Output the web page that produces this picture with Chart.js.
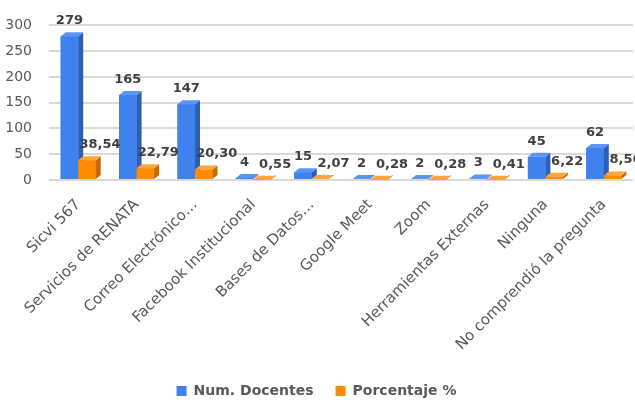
<!DOCTYPE html>
<html>
<head>
<meta charset="utf-8">
<title>Herramientas</title>
<script src="https://cdn.jsdelivr.net/npm/chart.js"></script>
<style>
  body { margin: 0; background: #fff; }
  #wrap { width: 635px; height: 400px; }
</style>
</head>
<body>
<div id="wrap"><canvas id="chart"></canvas></div>
<script>
var categories = ['Sicvi 567', 'Servicios de RENATA', 'Correo Electrónico…', 'Facebook Institucional',
  'Bases de Datos…', 'Google Meet', 'Zoom', 'Herramientas Externas', 'Ninguna', 'No comprendió la pregunta'];
var docentes = [279, 165, 147, 4, 15, 2, 2, 3, 45, 62];
var porcentaje = [38.54, 22.79, 20.30, 0.55, 2.07, 0.28, 0.28, 0.41, 6.22, 8.56];
var yTicks = [0, 50, 100, 150, 200, 250, 300];

var FONT = "'DejaVu Sans', sans-serif";
var faces = [
  { front: '#3f82ee', side: '#2b5fb8', top: '#5a95f2' },
  { front: '#ff8c00', side: '#c46a00', top: '#ffa53a' }
];

function fmt(v, ds) {
  if (ds === 0) return String(v);
  return v.toFixed(2).replace('.', ',');
}

// draws the bars again with a side and a top face, then the value labels
var bars3d = {
  id: 'bars3d',
  afterDatasetsDraw: function(chart) {
    var ctx = chart.ctx;
    var dx = 5, dy = 4;
    ctx.save();
    for (var d = 0; d < 2; d++) {
      var meta = chart.getDatasetMeta(d);
      var c = faces[d];
      meta.data.forEach(function(bar) {
        var w = bar.width;
        var l = bar.x - w / 2, r = bar.x + w / 2;
        var t = bar.y, b = bar.base;
        ctx.fillStyle = c.front;
        ctx.fillRect(l, t, w, b - t);
        ctx.fillStyle = c.side;
        ctx.beginPath();
        ctx.moveTo(r, t); ctx.lineTo(r + dx, t - dy); ctx.lineTo(r + dx, b - dy); ctx.lineTo(r, b);
        ctx.closePath(); ctx.fill();
        ctx.fillStyle = c.top;
        ctx.beginPath();
        ctx.moveTo(l, t); ctx.lineTo(l + dx, t - dy); ctx.lineTo(r + dx, t - dy); ctx.lineTo(r, t);
        ctx.closePath(); ctx.fill();
      });
    }
    ctx.fillStyle = '#404040';
    ctx.font = 'bold 13px ' + FONT;
    ctx.textAlign = 'center';
    ctx.textBaseline = 'bottom';
    for (var d2 = 0; d2 < 2; d2++) {
      var meta2 = chart.getDatasetMeta(d2);
      var vals = chart.data.datasets[d2].data;
      meta2.data.forEach(function(bar, i) {
        var x = d2 === 0 ? bar.x : bar.x + 13;
        ctx.fillText(fmt(vals[i], d2), x, bar.y - 9);
      });
    }
    ctx.restore();
  }
};

new Chart(document.getElementById('chart'), {
  type: 'bar',
  data: {
    labels: categories,
    datasets: [
      { label: 'Num. Docentes', data: docentes, backgroundColor: faces[0].front },
      { label: 'Porcentaje %', data: porcentaje, backgroundColor: faces[1].front }
    ]
  },
  options: {
    responsive: true,
    maintainAspectRatio: false,
    animation: false,
    layout: { padding: { top: 16, right: 2, left: 0, bottom: -8 } },
    categoryPercentage: 0.6,
    barPercentage: 1.0,
    scales: {
      x: {
        grid: { display: false },
        border: { display: false },
        ticks: {
          color: '#595959',
          font: { family: FONT, size: 15 },
          minRotation: 45,
          maxRotation: 45,
          padding: 8,
          autoSkip: false
        },
        afterFit: function(scale) { scale.height = 182; }
      },
      y: {
        min: 0,
        max: 300,
        afterBuildTicks: function(scale) {
          scale.ticks = yTicks.map(function(v) { return { value: v }; });
        },
        grid: { color: '#d9d9d9', lineWidth: 2, drawTicks: false },
        border: { display: false },
        ticks: {
          color: '#595959',
          font: { family: FONT, size: 14 },
          padding: 17
        },
        afterFit: function(scale) { scale.width = 49; }
      }
    },
    plugins: {
      legend: {
        position: 'bottom',
        labels: {
          color: '#595959',
          font: { family: FONT, size: 14, weight: 'bold' },
          boxWidth: 10,
          boxHeight: 10,
          padding: 22
        }
      },
      tooltip: { enabled: false }
    }
  },
  plugins: [bars3d]
});
</script>
</body>
</html>
